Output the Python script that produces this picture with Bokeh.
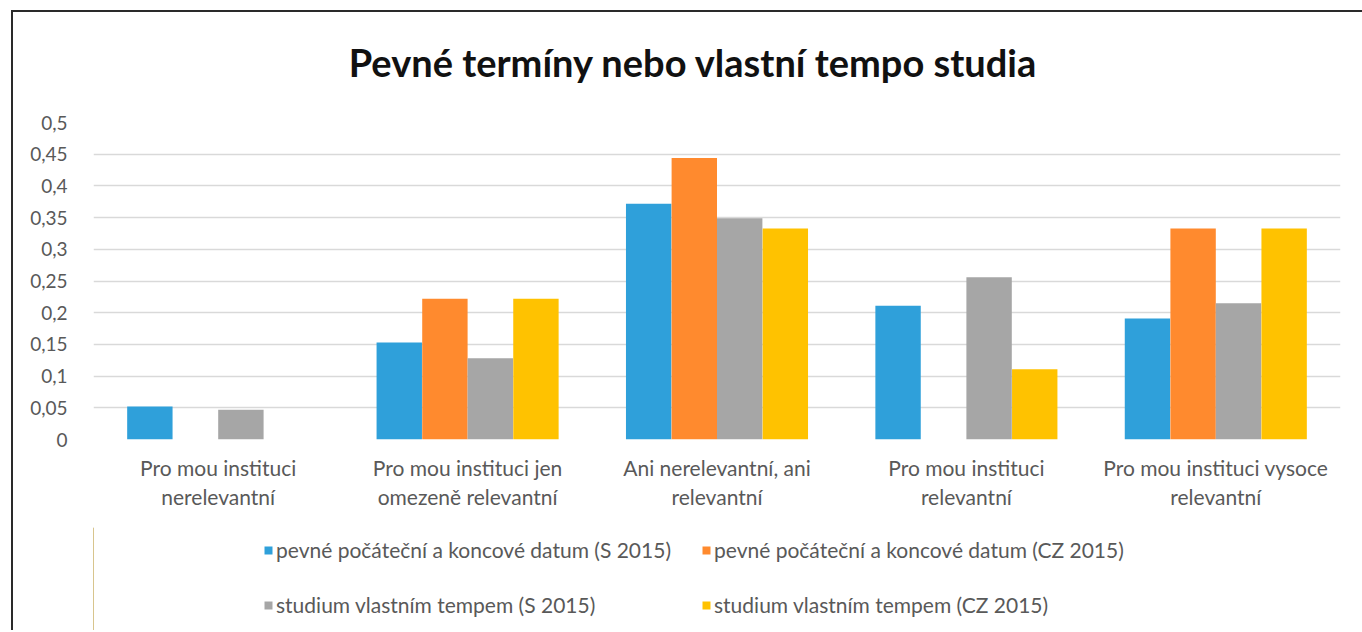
from bokeh.plotting import figure
from bokeh.layouts import column
from bokeh.models import ColumnDataSource, FactorRange, FixedTicker, Legend, LegendItem, Div
from bokeh.transform import dodge
from bokeh.embed import file_html
from bokeh.resources import INLINE

categories = [
    "Pro mou instituci\nnerelevantní",
    "Pro mou instituci jen\nomezeně relevantní",
    "Ani nerelevantní, ani\nrelevantní",
    "Pro mou instituci\nrelevantní",
    "Pro mou instituci vysoce\nrelevantní",
]
series_names = [
    "pevné počáteční a koncové datum (S 2015)",
    "pevné počáteční a koncové datum (CZ 2015)",
    "studium vlastním tempem (S 2015)",
    "studium vlastním tempem (CZ 2015)",
]
fixed_s = [0.052, 0.153, 0.372, 0.211, 0.191]
fixed_cz = [0.0, 0.222, 0.444, 0.0, 0.333]
self_s = [0.047, 0.128, 0.349, 0.256, 0.215]
self_cz = [0.0, 0.222, 0.333, 0.111, 0.333]
colors = ["#2FA0DA", "#FF8A2E", "#A6A6A6", "#FFC200"]
y_ticks = [0, 0.05, 0.1, 0.15, 0.2, 0.25, 0.3, 0.35, 0.4, 0.45, 0.5]
y_tick_labels = ["0", "0,05", "0,1", "0,15", "0,2", "0,25", "0,3", "0,35", "0,4", "0,45", "0,5"]
title_text = "Pevné termíny nebo vlastní tempo studia"

FONT = "Lato"

# title strip
title = Div(text=title_text, width=1349, height=88,
            styles={"text-align": "center", "font-family": FONT, "font-size": "38px",
                    "font-weight": "bold", "color": "#111111", "line-height": "90px",
                    "width": "1349px", "overflow": "visible"})

source = ColumnDataSource(dict(cat=categories, s0=fixed_s, s1=fixed_cz, s2=self_s, s3=self_cz))

p = figure(x_range=FactorRange(*categories), y_range=(0, 0.5),
           frame_width=1247, frame_height=317, output_backend="svg", toolbar_location=None,
           min_border_left=80, min_border_right=22, min_border_top=12, min_border_bottom=88)

offsets = [-0.274, -0.091, 0.091, 0.274]
bw = 0.182
for i, key in enumerate(["s0", "s1", "s2", "s3"]):
    p.vbar(x=dodge("cat", offsets[i], range=p.x_range), top=key, width=bw,
           source=source, color=colors[i], line_color=None)

p.xgrid.grid_line_color = None
p.ygrid.grid_line_color = "#D9D9D9"
p.ygrid.grid_line_width = 1.5
p.outline_line_color = None

p.yaxis.ticker = FixedTicker(ticks=y_ticks)
p.yaxis.major_label_overrides = {t: l for t, l in zip(y_ticks, y_tick_labels)}
for ax in (p.xaxis, p.yaxis):
    ax.axis_line_color = None
    ax.major_tick_line_color = None
    ax.minor_tick_line_color = None
    ax.major_label_text_font = FONT
    ax.major_label_text_font_size = "19px"
    ax.major_label_text_color = "#595959"
p.yaxis.major_label_standoff = 20
p.xaxis.major_label_standoff = 9
p.xaxis.major_label_text_line_height = 1.18
p.xaxis.major_label_text_font_size = "21px"

# legend strip below the chart (swatch renderers sit outside the visible range)
leg = figure(width=1349, height=103, x_range=(0, 1), y_range=(0, 1),
             x_axis_location=None, y_axis_location=None,
             output_backend="svg", toolbar_location=None, min_border=0)
leg.xgrid.grid_line_color = None
leg.ygrid.grid_line_color = None
leg.outline_line_color = None
items = []
for i in range(4):
    r = leg.vbar(x=[-10], top=[1], width=0.1, color=colors[i], line_color=None)
    items.append(LegendItem(label=series_names[i], renderers=[r]))

legend = Legend(items=items, location=(170, 13), orientation="horizontal", ncols=2,
                label_text_font=FONT, label_text_font_size="21px", label_text_color="#595959",
                glyph_width=10, glyph_height=10, label_standoff=3, spacing=30,
                label_height=20, border_line_color=None, background_fill_alpha=0,
                padding=5, margin=0)
leg.add_layout(legend)

layout = column(title, p, leg, spacing=0)
layout.styles = {"border-left": "2px solid #2a2a2a", "border-top": "2px solid #2a2a2a",
                 "margin-left": "11px", "margin-top": "10px"}

open("out.html", "w").write(file_html(layout, INLINE))
